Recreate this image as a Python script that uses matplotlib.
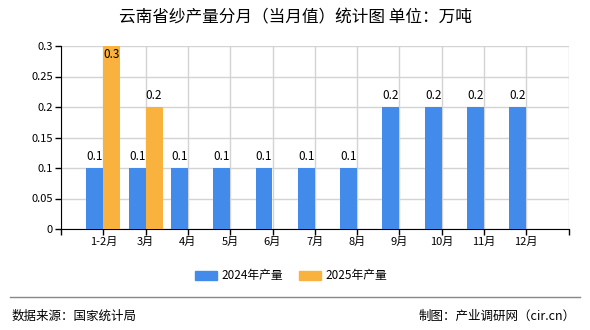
import matplotlib
matplotlib.use("Agg")
import matplotlib.pyplot as plt
from matplotlib.patches import Patch
import numpy as np

plt.rcParams['font.family'] = ['Noto Sans CJK SC', 'DejaVu Sans']

categories = ["1-2月", "3月", "4月", "5月", "6月", "7月", "8月", "9月", "10月", "11月", "12月"]
values_2024 = [0.1, 0.1, 0.1, 0.1, 0.1, 0.1, 0.1, 0.2, 0.2, 0.2, 0.2]
values_2025 = [0.3, 0.2]
yticks = [0, 0.05, 0.1, 0.15, 0.2, 0.25, 0.3]
ytick_labels = ["0", "0.05", "0.1", "0.15", "0.2", "0.25", "0.3"]

c24 = "#428BEA"
c25 = "#FAB23F"

fig = plt.figure(figsize=(5.9, 3.3), dpi=100)
ax = fig.add_axes([61/590, 1-229/330, (568.6-61)/590, (229-46)/330])

x = np.arange(len(categories))
w = 0.4
ax.bar(x - w/2, values_2024, width=w, color=c24, zorder=3)
x25 = np.arange(len(values_2025))
ax.bar(x25 + w/2, values_2025, width=w, color=c25, zorder=3)

ymax = 0.3
ax.set_xlim(-1, len(categories))
ax.set_ylim(0, ymax)

def label(xs, vals):
    for xi, v in zip(xs, vals):
        if v >= ymax - 1e-9:
            ax.text(xi, v - 0.003, f"{v:g}", ha='center', va='top', fontsize=8.5, zorder=4)
        else:
            ax.text(xi, v + 0.008, f"{v:g}", ha='center', va='bottom', fontsize=8.5, zorder=4)

label(x - w/2, values_2024)
label(x25 + w/2, values_2025)

ax.set_xticks(np.arange(-1, len(categories) + 1), minor=False)
ax.set_xticklabels([""] + categories + [""], fontsize=8)
ax.set_yticks(yticks)
ax.set_yticklabels(ytick_labels, fontsize=8)
ax.grid(True, color="#d3d3d3", linewidth=1, zorder=0)
ax.set_axisbelow(True)
for s in ["top", "right"]:
    ax.spines[s].set_visible(False)
ax.spines["left"].set_color("black")
ax.spines["bottom"].set_color("black")
ax.tick_params(axis='both', length=4, width=1, color='black', pad=2)

fig.text(295/590, 1-18/330, "云南省纱产量分月（当月值）统计图 单位：万吨", ha='center', va='center', fontsize=12)

handles = [Patch(color=c24, label="2024年产量"), Patch(color=c25, label="2025年产量")]
fig.legend(handles=handles, loc='center', bbox_to_anchor=(291/590, 1-276/330), ncol=2,
           frameon=False, fontsize=8.5, handlelength=1.9, handleheight=0.7,
           handletextpad=0.35, columnspacing=1.35)

fig.add_artist(plt.Line2D([10/590, 580/590], [1-297/330, 1-297/330], color="#888888", linewidth=1))
fig.text(12/590, 1-316/330, "数据来源：国家统计局", ha='left', va='center', fontsize=9)
fig.text(576/590, 1-316/330, "制图：产业调研网（cir.cn）", ha='right', va='center', fontsize=9)

fig.savefig("out.png", dpi=100)
